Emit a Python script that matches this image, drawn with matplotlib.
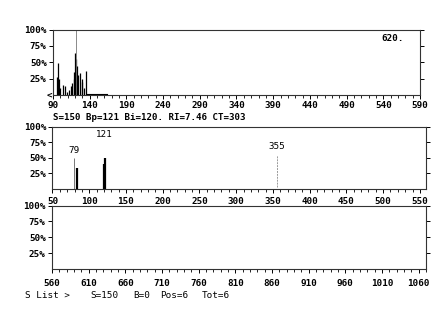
import matplotlib
matplotlib.use("Agg")
import matplotlib.pyplot as plt
from matplotlib.ticker import MultipleLocator, FixedLocator

plt.rcParams["font.family"] = ["DejaVu Sans Mono"]
plt.rcParams["font.size"] = 6.7
plt.rcParams["font.weight"] = "bold"

W, H = 435, 310

# top panel spectrum (m/z, %)
top_mz = [95, 97, 98, 100, 103, 106, 109, 112, 114, 116, 118, 119, 120, 122, 123, 124, 127, 129, 130, 132, 135]
top_int = [27, 49, 25, 10, 15, 14, 5, 8, 14, 18, 25, 35, 64, 55, 45, 30, 33, 20, 25, 10, 37]
top_tail_mz = [136, 140, 145, 150, 155, 160, 164]
top_tail_int = [2, 2, 2, 2, 2, 2, 2]
cursor_mz = 121
top_max = "620."

# middle panel
mid_mz = [83, 120, 121]
mid_int = [33, 40, 50]
mid_thin_mz = [79, 355]
mid_thin_int = [50, 55]
mid_labels = ["79", "121", "355"]
mid_label_mz = [79, 121, 355]

pct_ticks = [25, 50, 75, 100]
pct_labels = ["25%", "50%", "75%", "100%"]

header = "S=150 Bp=121 Bi=120. RI=7.46 CT=303"
footer = ["S List >", "S=150", "B=0", "Pos=6", "Tot=6"]


def rect(left, right, top, bottom):
    return [left / W, 1 - bottom / H, (right - left) / W, (bottom - top) / H]


def px(x, y):
    return x / W, 1 - y / H


def style_axes(ax, x0, x1, xmax, pad):
    ax.set_xlim(x0, xmax)
    ax.set_ylim(0, 100)
    ax.xaxis.set_major_locator(FixedLocator(list(range(x0, x1 + 1, 50))))
    ax.xaxis.set_minor_locator(MultipleLocator(10))
    ax.set_yticks(pct_ticks)
    ax.set_yticklabels(pct_labels)
    ax.tick_params(axis="x", which="major", direction="out", length=3, width=0.7, pad=pad, labelsize=6.7)
    ax.tick_params(axis="x", which="minor", direction="out", length=2, width=0.6)
    ax.tick_params(axis="y", direction="out", length=3, width=0.7, pad=1.5, right=True, labelsize=6.7)
    for s in ax.spines.values():
        s.set_linewidth(0.8)
        s.set_color("#333333")


fig = plt.figure(figsize=(W / 100, H / 100), dpi=100)

ax1 = fig.add_axes(rect(53, 420, 29.5, 95))
style_axes(ax1, 90, 590, 590, 1)
ax1.vlines(top_mz, 0, top_int, color="black", linewidth=0.9)
ax1.plot(top_tail_mz, top_tail_int, color="black", linewidth=0.8)
ax1.vlines([cursor_mz], 0, 100, color="#777777", linewidth=0.6)
ax1.text(0.955, 0.87, top_max, transform=ax1.transAxes, ha="right", va="center")
fig.text(*px(52, 94.5), "<", ha="right", va="center", fontsize=6.7)

fig.text(*px(53, 117.5), header, ha="left", va="center", fontsize=6.6)

ax2 = fig.add_axes(rect(52.5, 426.5, 126.7, 189))
style_axes(ax2, 50, 550, 559, 3)
ax2.vlines(mid_mz, 0, mid_int, color="black", linewidth=1.6)
ax2.vlines(mid_thin_mz[:1], 0, mid_thin_int[:1], color="#777777", linewidth=0.7)
ax2.vlines(mid_thin_mz[1:], 3, mid_thin_int[1:], color="#999999", linewidth=0.7, linestyles=(0, (2, 1)))
label_y = [62, 87, 69]
for lab, m, y in zip(mid_labels, mid_label_mz, label_y):
    ax2.text(m, y, lab, ha="center", va="center", fontsize=6.7, fontweight="normal")

ax3 = fig.add_axes(rect(52, 426, 205.5, 269))
style_axes(ax3, 560, 1060, 1070, 4)

foot_x = [25, 90, 133, 160, 202]
for t, x in zip(footer, foot_x):
    fig.text(*px(x, 296), t, ha="left", va="center", fontsize=6.7, fontweight="normal")

fig.savefig("out.png", dpi=100)
